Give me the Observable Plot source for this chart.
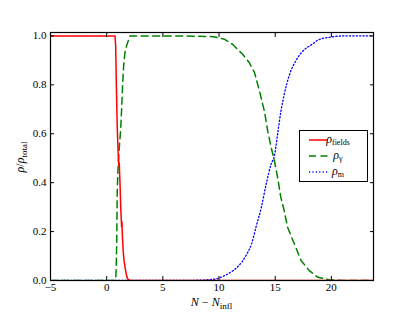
<!DOCTYPE html>
<html>
<head>
<meta charset="utf-8">
<script src="https://cdn.jsdelivr.net/npm/d3@7"></script>
<script src="https://cdn.jsdelivr.net/npm/@observablehq/plot@0.6"></script>
<style>
  html, body { margin: 0; padding: 0; background: #fff; }
  #chart { width: 415px; height: 312px; }
  #chart svg, #chart svg text { font-family: "Liberation Serif", "DejaVu Serif", serif !important; }
</style>
</head>
<body>
<div id="chart"></div>
<script>
// ---- data ----
const fieldsX = [-5, 0.74, 0.8, 0.86, 0.94, 1.02, 1.08, 1.12, 1.15, 1.2, 1.25, 1.3, 1.33, 1.36, 1.4, 1.47, 1.55, 1.65, 1.75, 1.85, 1.95, 2.2, 23.75];
const fieldsY = [1, 1, 0.96, 0.8, 0.63, 0.52, 0.47, 0.48, 0.44, 0.38, 0.3, 0.25, 0.22, 0.24, 0.18, 0.12, 0.08, 0.05, 0.025, 0.008, 0.002, 0, 0];

const gammaX = [-5, 0.8, 0.85, 0.89, 0.94, 1.0, 1.12, 1.25, 1.33, 1.42, 1.5, 1.62, 1.77, 2.07, 3, 5, 8, 9.5, 10.5, 11.2, 12.1, 12.7, 13.16, 13.6, 14.05, 14.34, 14.64, 14.93, 15.22, 15.5, 15.8, 16.1, 16.7, 17.3, 18.04, 18.8, 19.8, 21, 23.75];
const gammaY = [0, 0, 0.05, 0.15, 0.36, 0.45, 0.54, 0.62, 0.7, 0.8, 0.87, 0.93, 0.96, 1.0, 1.0, 1.0, 0.999, 0.997, 0.986, 0.966, 0.925, 0.89, 0.85, 0.775, 0.69, 0.61, 0.544, 0.49, 0.42, 0.34, 0.286, 0.218, 0.15, 0.082, 0.04, 0.013, 0.003, 0, 0];

const matterX = [-5, 7, 8, 9, 9.76, 10.5, 11.24, 11.7, 12.1, 12.5, 12.9, 13.3, 13.77, 14.2, 14.64, 14.93, 15.22, 15.5, 15.8, 16.26, 16.86, 17.4, 18.3, 18.9, 19.95, 21, 23.75];
const matterY = [0, 0, 0.001, 0.003, 0.007, 0.02, 0.04, 0.058, 0.08, 0.11, 0.15, 0.22, 0.3, 0.395, 0.476, 0.51, 0.6, 0.69, 0.76, 0.84, 0.9, 0.935, 0.966, 0.985, 0.995, 1.0, 1.0];

const xTicks = [-5, 0, 5, 10, 15, 20];
const xTickLabels = ["\u22125", "0", "5", "10", "15", "20"];
const yTicks = [0, 0.2, 0.4, 0.6, 0.8, 1.0];
const yTickLabels = ["0.0", "0.2", "0.4", "0.6", "0.8", "1.0"];

const seriesNames = ["fields", "\u03b3", "m"];
const seriesColors = ["#ff0000", "#008000", "#0000ff"];
const seriesDash = [null, "7,4.5", "1.2,2.2"];
const seriesWidth = [1.5, 1.5, 1.3];

// build tables
const toRows = (xs, ys) => xs.map((x, i) => ({x, y: ys[i]}));
const fieldsRows = toRows(fieldsX, fieldsY);
const gammaRows = toRows(gammaX, gammaY);
const matterRows = toRows(matterX, matterY);

const FONT = "Liberation Serif, DejaVu Serif, serif";

const chart = Plot.plot({
  width: 415,
  height: 312,
  marginLeft: 50,
  marginRight: 42,
  marginTop: 32,
  marginBottom: 32,
  style: {fontFamily: FONT, fontSize: "11px", background: "#fff", color: "#000", overflow: "visible"},
  x: {domain: [-5, 23.75]},
  y: {domain: [0, 1.014]},
  marks: [
    Plot.line(matterRows, {x: "x", y: "y", stroke: seriesColors[2], strokeWidth: seriesWidth[2], strokeDasharray: seriesDash[2], curve: "monotone-x", clip: true}),
    Plot.line(gammaRows, {x: "x", y: "y", stroke: seriesColors[1], strokeWidth: seriesWidth[1], strokeDasharray: seriesDash[1], clip: true}),
    Plot.line(fieldsRows, {x: "x", y: "y", stroke: seriesColors[0], strokeWidth: seriesWidth[0], clip: true}),
    Plot.frame({stroke: "#000", strokeWidth: 1.2}),
    Plot.axisX({anchor: "bottom", ticks: xTicks, tickSize: 0, tickPadding: 3, fontFamily: FONT, fontSize: 11, tickFormat: (d, i) => xTickLabels[i], label: null}),
    Plot.axisX({anchor: "bottom", ticks: xTicks, tickSize: -4, tickFormat: () => "", label: null}),
    Plot.axisX({anchor: "top", ticks: xTicks, tickSize: -4, tickFormat: () => "", label: null}),
    Plot.axisY({anchor: "left", ticks: yTicks, tickSize: 0, tickPadding: 4, fontFamily: FONT, fontSize: 11, tickFormat: (d, i) => yTickLabels[i], label: null}),
    Plot.axisY({anchor: "left", ticks: yTicks, tickSize: -4, tickFormat: () => "", label: null}),
    Plot.axisY({anchor: "right", ticks: yTicks, tickSize: -4, tickFormat: () => "", label: null})
  ]
});
document.getElementById("chart").appendChild(chart);

// axis titles and legend
const svg = d3.select(chart);
const xt = svg.append("text")
  .attr("x", 211.5).attr("y", 306)
  .attr("text-anchor", "middle")
  .style("font-size", "12px");
xt.append("tspan").style("font-style", "italic").text("N");
xt.append("tspan").text(" \u2212 ");
xt.append("tspan").style("font-style", "italic").text("N");
xt.append("tspan").attr("dy", 3).style("font-size", "9px").text("infl");

const yt = svg.append("text")
  .attr("transform", "translate(24,157) rotate(-90)")
  .attr("text-anchor", "middle")
  .style("font-size", "12px");
yt.append("tspan").style("font-style", "italic").text("\u03c1");
yt.append("tspan").text("/");
yt.append("tspan").style("font-style", "italic").text("\u03c1");
yt.append("tspan").attr("dy", 3).style("font-size", "9px").text("total");

const lg = svg.append("g");
lg.append("rect")
  .attr("x", 299.5).attr("y", 130.5).attr("width", 68).attr("height", 51)
  .attr("fill", "#fff").attr("stroke", "#000").attr("stroke-width", 1);
seriesNames.forEach((name, i) => {
  const yy = 140 + i * 16;
  lg.append("line")
    .attr("x1", 309).attr("x2", 328).attr("y1", yy).attr("y2", yy)
    .attr("stroke", seriesColors[i]).attr("stroke-width", seriesWidth[i])
    .attr("stroke-dasharray", seriesDash[i]);
  const t = lg.append("text").attr("x", 338).attr("y", yy + 3).style("font-size", "12px");
  t.append("tspan").style("font-style", "italic").text("\u03c1");
  t.append("tspan").attr("dy", 2).style("font-size", "8px").text(name);
});
</script>
</body>
</html>
